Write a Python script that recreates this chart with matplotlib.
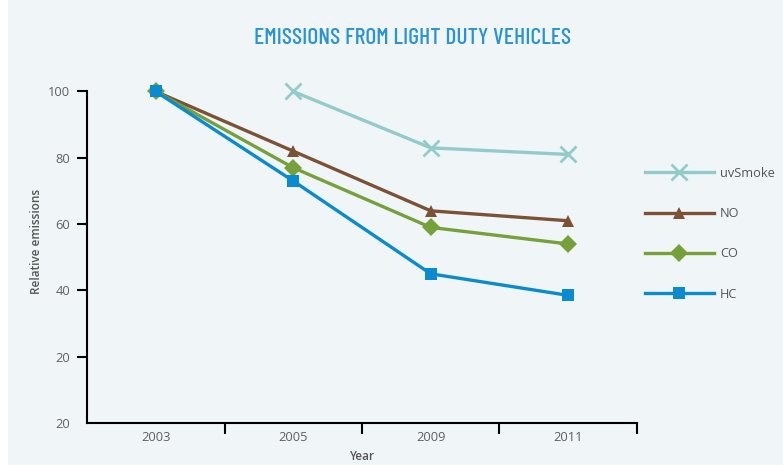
import matplotlib.pyplot as plt
from matplotlib.patches import Rectangle
import numpy as np

# data
years = ['2003', '2005', '2009', '2011']
uv_smoke = [np.nan, 100, 83, 81]
no_vals = [100, 82, 64, 61]
co_vals = [100, 77, 59, 54]
hc_vals = [100, 73, 45, 38.5]
y_ticks = [0, 20, 40, 60, 80, 100]
y_tick_labels = ['20', '20', '40', '60', '80', '100']

plt.rcParams['font.family'] = ['Open Sans', 'DejaVu Sans']

bg = '#f0f5f8'
fig = plt.figure(figsize=(7.83, 4.65), dpi=100, facecolor=bg)
fig.patches.append(Rectangle((0, 0), 8 / 783, 1, transform=fig.transFigure,
                             facecolor='white', edgecolor='none', zorder=-1))
ax = fig.add_axes([87 / 783, 1 - 423 / 465, (637 - 87) / 783, (423 - 60) / 465])
ax.set_facecolor(bg)

x = np.arange(len(years))
series = [
    ('uvSmoke', uv_smoke, '#93cbcb', 'x', 11),
    ('NO', no_vals, '#7b5236', '^', 9),
    ('CO', co_vals, '#76a03a', 'D', 9),
    ('HC', hc_vals, '#0a8bcf', 's', 9),
]
for name, vals, col, mk, ms in series:
    ax.plot(x, vals, color=col, lw=2.4, marker=mk, ms=ms, mew=2 if mk == 'x' else 0,
            mec=col, label=name, clip_on=False)

ax.set_xlim(-0.5, 3.5)
ax.set_ylim(0, 109.5)
ax.set_yticks(y_ticks)
ax.set_yticklabels(y_tick_labels)
ax.set_xticks(x)
ax.set_xticklabels(years)
ax.set_xticks(np.arange(0.5, 4, 1), minor=True)
ax.tick_params(axis='x', which='major', length=0, pad=6, labelsize=9.3, labelcolor='#606060')
ax.tick_params(axis='x', which='minor', length=8, width=1.5, direction='out', color='black')
ax.tick_params(axis='y', length=7, width=1.5, pad=5, labelsize=9.3, labelcolor='#606060')
ax.yaxis.get_major_ticks()[0].tick1line.set_visible(False)

for s in ['top', 'right']:
    ax.spines[s].set_visible(False)
for s in ['left', 'bottom']:
    ax.spines[s].set_linewidth(1.5)
ax.spines['left'].set_bounds(0, 100)

ax.set_xlabel('Year', fontsize=8.5, color='#555555', labelpad=4, fontweight='semibold')
ax.set_ylabel('Relative emissions', fontsize=8.5, color='#555555', labelpad=4, fontweight='semibold')

fig.text(413 / 783, 1 - 38 / 465, 'EMISSIONS FROM LIGHT DUTY VEHICLES', ha='center', va='center',
         fontsize=16.9, color='#2a93d5', fontweight='medium',
         family=['Barlow Condensed', 'Liberation Sans Narrow', 'DejaVu Sans'])

leg = fig.legend(loc='upper left', bbox_to_anchor=(633 / 783, 1 - 155 / 465), frameon=False,
                 handlelength=5.4, labelspacing=2.15, fontsize=9.2, handletextpad=0.5)
for t in leg.get_texts():
    t.set_color('#555555')

fig.savefig('out.png', dpi=100, facecolor=bg)
